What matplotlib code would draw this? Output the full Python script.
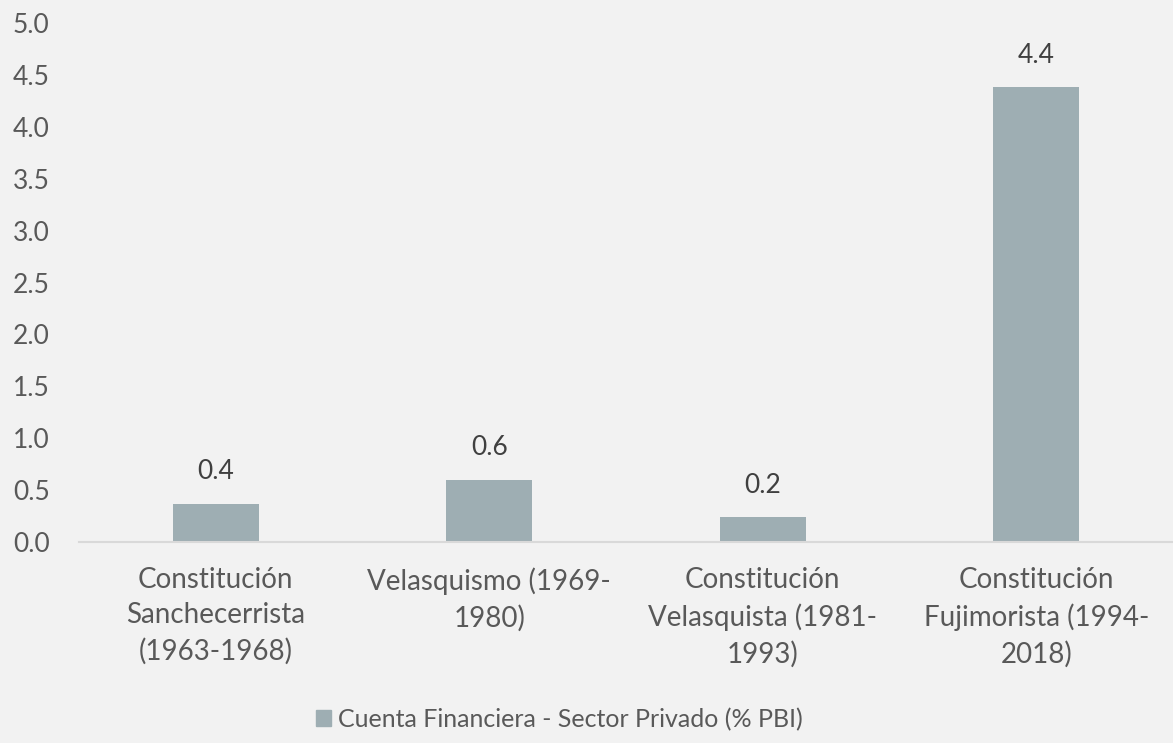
import matplotlib
matplotlib.use("Agg")
import matplotlib.pyplot as plt
from matplotlib.patches import Patch

# datos
periodos = ["Constitución\nSanchecerrista\n(1963-1968)",
            "Velasquismo (1969-\n1980)",
            "Constitución\nVelasquista (1981-\n1993)",
            "Constitución\nFujimorista (1994-\n2018)"]
valores = [0.37, 0.60, 0.24, 4.38]
etiquetas = ["0.4", "0.6", "0.2", "4.4"]
serie = "Cuenta Financiera - Sector Privado (% PBI)"

fondo = "#f2f2f2"
color_barra = "#9eaeb3"
gris_texto = "#595959"

plt.rcParams["font.family"] = ["Lato", "DejaVu Sans"]

fig = plt.figure(figsize=(11.73, 7.43), dpi=100, facecolor=fondo)
ax = fig.add_axes([0.0673, 0.2705, 0.9327, 0.6985])
ax.set_facecolor(fondo)

x = range(len(periodos))
barras = ax.bar(x, valores, width=0.315, color=color_barra, zorder=2)

for b, txt in zip(barras, etiquetas):
    ax.annotate(txt, (b.get_x() + b.get_width() / 2, b.get_height()),
                xytext=(0, 14), textcoords="offset points",
                ha="center", va="bottom", fontsize=19, color="#404040")

ax.set_xlim(-0.5, len(periodos) - 0.5)
ax.set_ylim(0, 5)
ax.set_yticks([i * 0.5 for i in range(11)])
ax.set_yticklabels([f"{i * 0.5:.1f}" for i in range(11)])
ax.set_xticks(list(x))
ax.set_xticklabels(periodos, linespacing=1.45)

ax.tick_params(axis="x", length=0, labelsize=20, labelcolor=gris_texto, pad=18)
ax.tick_params(axis="y", length=0, labelsize=19, labelcolor=gris_texto, pad=21)
for lado in ["top", "right", "left"]:
    ax.spines[lado].set_visible(False)
ax.spines["bottom"].set_color("#d9d9d9")
ax.spines["bottom"].set_linewidth(1.5)

fig.legend(handles=[Patch(color=color_barra, label=serie)],
           loc="center", bbox_to_anchor=(0.477, 0.032), frameon=False,
           fontsize=18, labelcolor=gris_texto, handlelength=0.6,
           handleheight=0.6, handletextpad=0.3)

fig.savefig("out.png", dpi=100, facecolor=fondo)
